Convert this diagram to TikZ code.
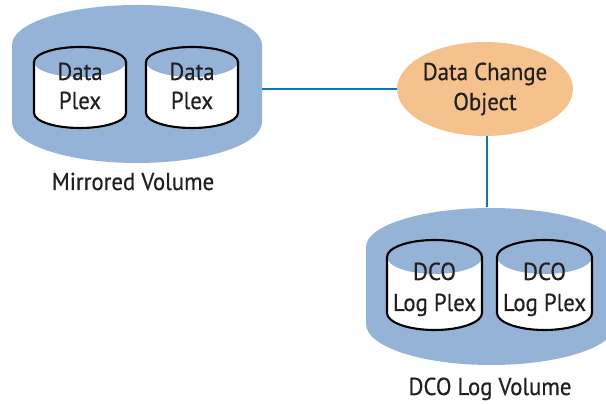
\documentclass[tikz,border=0pt]{standalone}
\usepackage{fontspec}
\setmainfont[FakeStretch=0.93,FakeBold=0.5]{PT Sans}
\usetikzlibrary{shapes.geometric}
\definecolor{volblue}{HTML}{95B3D7}
\definecolor{dcoorange}{HTML}{F5C28E}
\definecolor{linkblue}{HTML}{1372B6}
\definecolor{inktext}{HTML}{231F20}

% a plex drawn as a small disk: centre x, top y, bottom y, x radius, y radius
\newcommand\plexdisk[5]{%
  \fill[white] (#1-#4,#2) -- (#1-#4,#3)
    arc[start angle=180,end angle=360,x radius=#4,y radius=#5]
    -- (#1+#4,#2) arc[start angle=0,end angle=180,x radius=#4,y radius=#5] -- cycle;
  \fill[volblue] (#1,#2) ellipse[x radius=#4,y radius=#5];
  \draw[diskline] (#1-#4,#2) -- (#1-#4,#3)
    arc[start angle=180,end angle=360,x radius=#4,y radius=#5]
    -- (#1+#4,#2) arc[start angle=0,end angle=180,x radius=#4,y radius=#5] -- cycle;
}
% a volume drawn as a wide cylinder
\newcommand\volshape[6]{%
  \fill[volblue] (#1-#4,#2) -- (#1-#4,#3)
    arc[start angle=180,end angle=360,x radius=#4,y radius=#6]
    -- (#1+#4,#2) arc[start angle=0,end angle=180,x radius=#4,y radius=#5] -- cycle;
}

\begin{document}
\begin{tikzpicture}[x=1pt,y=1pt,
  diskline/.style={draw=black,line width=2.1pt},
  lbl/.style={inner sep=0pt,anchor=base,text=inktext,font=\fontsize{24.5}{29}\selectfont},
  link/.style={draw=linkblue,line width=2.8pt},
  hull/.style={inner sep=0pt,minimum width=250pt,minimum height=158pt}]
\useasboundingbox (0,0) rectangle (606,404);
\clip (0,0) rectangle (606,404);

% mirrored volume with its two data plexes
\volshape{137}{359}{282}{125}{40}{41}
\node[hull] (mirvol) at (137,320) {};
\plexdisk{80}{342}{291}{46}{15}
\plexdisk{192}{342}{291}{46}{15}
\node[lbl] (plexAa) at (80,324) {Data};
\node[lbl] (plexAb) at (80,295) {Plex};
\node[lbl] (plexBa) at (192,324) {Data};
\node[lbl] (plexBb) at (192,295) {Plex};
\node[lbl] (mirname) at (133,214) {Mirrored Volume};

% DCO log volume with its two log plexes
\volshape{491}{157}{80}{125}{39}{41}
\node[hull] (logvol) at (491,118) {};
\plexdisk{434.5}{147}{91}{47.5}{17}
\plexdisk{544.5}{147}{91}{47.5}{17}
\node[lbl] (logAa) at (434.5,124) {DCO};
\node[lbl] (logAb) at (434.5,93) {Log Plex};
\node[lbl] (logBa) at (544.5,124) {DCO};
\node[lbl] (logBb) at (544.5,93) {Log Plex};
\node[lbl] (logname) at (490,9) {DCO Log Volume};

% data change object
\node[ellipse,fill=dcoorange,inner sep=0pt,minimum width=169pt,minimum height=94pt,
  align=center,text=inktext,font=\fontsize{24.5}{30}\selectfont] (dco) at (485,315)
  {Data Change\\Object};

% connectors
\draw[link] (dco.west) -- (dco.west -| mirvol.east);
\draw[link] ([xshift=2pt]dco.south) -- ([xshift=2pt]dco.south |- logvol.north);
\end{tikzpicture}
\end{document}
